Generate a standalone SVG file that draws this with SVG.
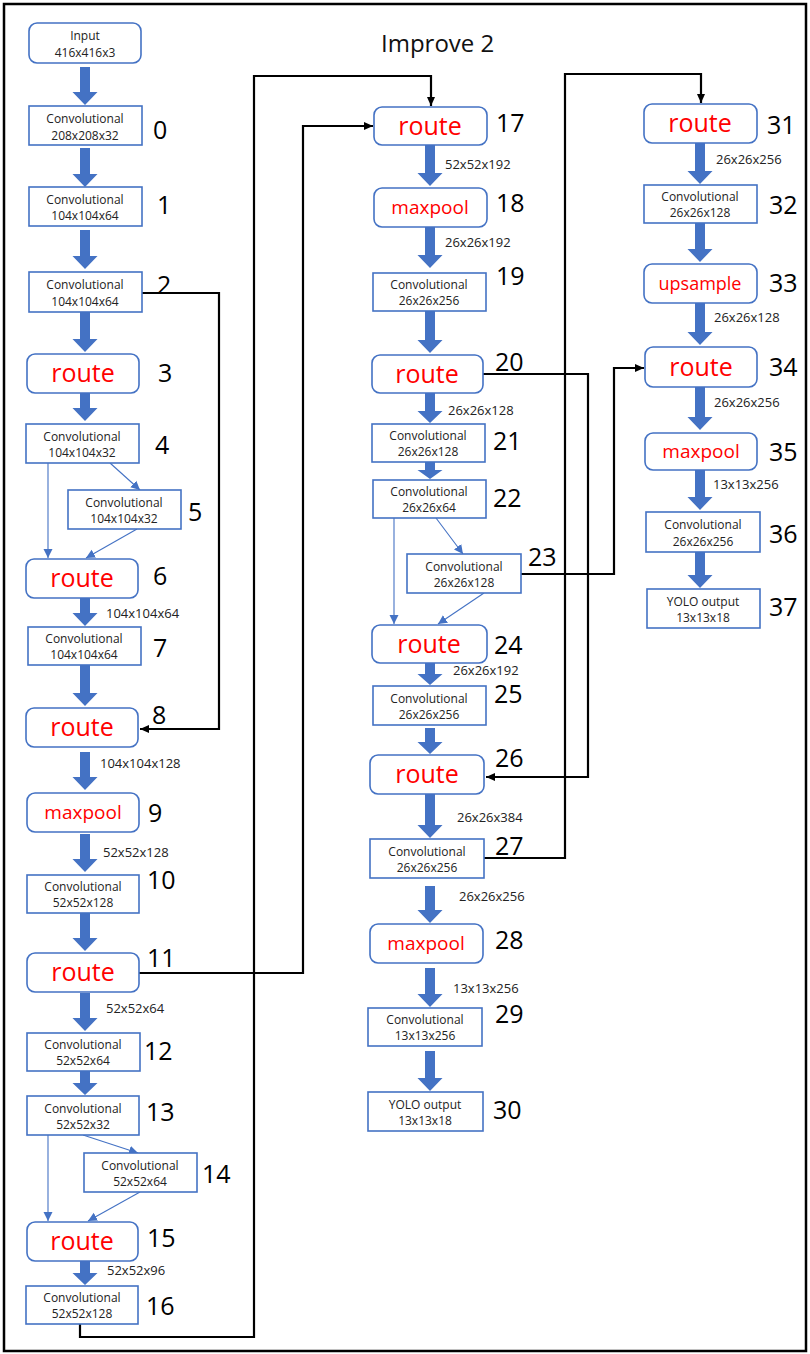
<svg xmlns="http://www.w3.org/2000/svg" width="810" height="1354" viewBox="0 0 810 1354">
<defs>
<style>
.frame{fill:#fff;stroke:#000;stroke-width:2.5}
.box{fill:#fff;stroke:#4472C4;stroke-width:1.6}
.t{font-family:"Open Sans","Liberation Sans",sans-serif;font-size:12px;fill:#222;text-anchor:middle}
.r{font-family:"Open Sans","Liberation Sans",sans-serif;font-size:25px;fill:#FF0000;text-anchor:middle}
.m{font-family:"Open Sans","Liberation Sans",sans-serif;font-size:19px;fill:#FF0000;text-anchor:middle}
.num{font-family:"Open Sans","Liberation Sans",sans-serif;font-size:25px;fill:#000}
.lbl{font-family:"Open Sans","Liberation Sans",sans-serif;font-size:13px;fill:#222}
.title{font-family:"Open Sans","Liberation Sans",sans-serif;font-size:24px;fill:#111}
.fat{fill:#4472C4}
.thin{fill:none;stroke:#4472C4;stroke-width:1.1;marker-end:url(#ab)}
.blk{fill:none;stroke:#000;stroke-width:2.2;marker-end:url(#ak)}
</style>
<marker id="ab" markerWidth="10" markerHeight="10" refX="9" refY="5" orient="auto" markerUnits="userSpaceOnUse"><path d="M0,0.5 L9,5 L0,9.5 Z" fill="#4472C4"/></marker>
<marker id="ak" markerWidth="10" markerHeight="10" refX="9" refY="5" orient="auto" markerUnits="userSpaceOnUse"><path d="M0,1 L9,5 L0,9 Z" fill="#000"/></marker>
</defs>
<rect class="frame" x="4" y="4" width="802" height="1347"/>
<text class="title" x="381" y="52">Improve 2</text>

<g id="connectors">
<path class="blk" d="M142,293 H219 V729 H140"/>
<path class="blk" d="M139,973 H303 V126 H373"/>
<path class="blk" d="M80,1324 V1337 H254 V76 H431 V106"/>
<path class="blk" d="M483,374 H588 V777 H486"/>
<path class="blk" d="M484,858 H565 V74 H701 V103"/>
<path class="blk" d="M521,574 H614 V368 H644"/>
<path class="thin" d="M48,463 V558"/>
<path class="thin" d="M110,463 L140,490"/>
<path class="thin" d="M137,529 L86,558"/>
<path class="thin" d="M48,1135 V1221"/>
<path class="thin" d="M83,1135 L138,1153"/>
<path class="thin" d="M140,1192 L88,1221"/>
<path class="thin" d="M394,518 V624"/>
<path class="thin" d="M436,518 L463,554"/>
<path class="thin" d="M484,593 L438,624"/>
<polygon class="fat" points="80,67 90,67 90,92 97.5,92 85,105 72.5,92 80,92"/>
<polygon class="fat" points="80,148 90,148 90,174 97.5,174 85,187 72.5,174 80,174"/>
<polygon class="fat" points="80,230 90,230 90,256 97.5,256 85,269 72.5,256 80,256"/>
<polygon class="fat" points="80,312 90,312 90,339 97.5,339 85,352 72.5,339 80,339"/>
<polygon class="fat" points="80,393 90,393 90,408 97.5,408 85,421 72.5,408 80,408"/>
<polygon class="fat" points="80,598 90,598 90,613 97.5,613 85,626 72.5,613 80,613"/>
<polygon class="fat" points="80,665 90,665 90,693 97.5,693 85,706 72.5,693 80,693"/>
<polygon class="fat" points="80,752 90,752 90,777 97.5,777 85,790 72.5,777 80,777"/>
<polygon class="fat" points="80,834 90,834 90,859 97.5,859 85,872 72.5,859 80,859"/>
<polygon class="fat" points="80,913 90,913 90,938 97.5,938 85,951 72.5,938 80,938"/>
<polygon class="fat" points="80,993 90,993 90,1018 97.5,1018 85,1031 72.5,1018 80,1018"/>
<polygon class="fat" points="80,1071 90,1071 90,1083 97.5,1083 85,1095 72.5,1083 80,1083"/>
<polygon class="fat" points="80,1261 90,1261 90,1273 97.5,1273 85,1285 72.5,1273 80,1273"/>
<polygon class="fat" points="425,145 435,145 435,173 442.5,173 430,186 417.5,173 425,173"/>
<polygon class="fat" points="425,227 435,227 435,255 442.5,255 430,268 417.5,255 425,255"/>
<polygon class="fat" points="425,311 435,311 435,340 442.5,340 430,353 417.5,340 425,340"/>
<polygon class="fat" points="425,393 435,393 435,411 442.5,411 430,423 417.5,411 425,411"/>
<polygon class="fat" points="425,462 435,462 435,470 442.5,470 430,479 417.5,470 425,470"/>
<polygon class="fat" points="425,663 435,663 435,674 442.5,674 430,685 417.5,674 425,674"/>
<polygon class="fat" points="425,728 435,728 435,742 442.5,742 430,754 417.5,742 425,742"/>
<polygon class="fat" points="425,794 435,794 435,825 442.5,825 430,838 417.5,825 425,825"/>
<polygon class="fat" points="425,886 435,886 435,910 442.5,910 430,923 417.5,910 425,910"/>
<polygon class="fat" points="425,968 435,968 435,994 442.5,994 430,1007 417.5,994 425,994"/>
<polygon class="fat" points="425,1051 435,1051 435,1078 442.5,1078 430,1091 417.5,1078 425,1078"/>
<polygon class="fat" points="695,143 705,143 705,171 712.5,171 700,184 687.5,171 695,171"/>
<polygon class="fat" points="695,223 705,223 705,249 712.5,249 700,262 687.5,249 695,249"/>
<polygon class="fat" points="695,303 705,303 705,332 712.5,332 700,345 687.5,332 695,332"/>
<polygon class="fat" points="695,387 705,387 705,417 712.5,417 700,430 687.5,417 695,417"/>
<polygon class="fat" points="695,470 705,470 705,497 712.5,497 700,510 687.5,497 695,497"/>
<polygon class="fat" points="695,552 705,552 705,575 712.5,575 700,588 687.5,575 695,575"/>
</g>

<g id="edge-labels">
<text class="lbl" x="106" y="618">104x104x64</text>
<text class="lbl" x="100" y="768">104x104x128</text>
<text class="lbl" x="103" y="857">52x52x128</text>
<text class="lbl" x="106" y="1013">52x52x64</text>
<text class="lbl" x="107" y="1275">52x52x96</text>
<text class="lbl" x="445" y="169">52x52x192</text>
<text class="lbl" x="445" y="247">26x26x192</text>
<text class="lbl" x="448" y="415">26x26x128</text>
<text class="lbl" x="453" y="675">26x26x192</text>
<text class="lbl" x="457" y="822">26x26x384</text>
<text class="lbl" x="459" y="901">26x26x256</text>
<text class="lbl" x="453" y="993">13x13x256</text>
<text class="lbl" x="716" y="164">26x26x256</text>
<text class="lbl" x="714" y="322">26x26x128</text>
<text class="lbl" x="714" y="407">26x26x256</text>
<text class="lbl" x="713" y="489">13x13x256</text>
</g>

<g id="input"><rect class="box" x="29" y="23" width="112" height="40" rx="8"/><text class="t" x="85" y="40">Input</text><text class="t" x="85" y="57">416x416x3</text></g>
<g id="n0"><rect class="box" x="29" y="106" width="113" height="39"/><text class="t" x="85" y="123">Convolutional</text><text class="t" x="85" y="140">208x208x32</text><text class="num" x="153" y="139">0</text></g>
<g id="n1"><rect class="box" x="29" y="187" width="113" height="39"/><text class="t" x="85" y="204">Convolutional</text><text class="t" x="85" y="220">104x104x64</text><text class="num" x="157" y="214">1</text></g>
<g id="n2"><rect class="box" x="29" y="272" width="113" height="40"/><text class="t" x="85" y="289">Convolutional</text><text class="t" x="85" y="306">104x104x64</text><text class="num" x="157" y="294">2</text></g>
<g id="n3"><rect class="box" x="27" y="354" width="112" height="39" rx="8"/><text class="r" x="83" y="382">route</text><text class="num" x="158" y="382">3</text></g>
<g id="n4"><rect class="box" x="26" y="424" width="113" height="39"/><text class="t" x="82" y="441">Convolutional</text><text class="t" x="82" y="457">104x104x32</text><text class="num" x="155" y="454">4</text></g>
<g id="n5"><rect class="box" x="68" y="490" width="113" height="39"/><text class="t" x="124" y="507">Convolutional</text><text class="t" x="124" y="523">104x104x32</text><text class="num" x="188" y="521">5</text></g>
<g id="n6"><rect class="box" x="26" y="559" width="112" height="39" rx="8"/><text class="r" x="82" y="587">route</text><text class="num" x="153" y="585">6</text></g>
<g id="n7"><rect class="box" x="28" y="627" width="113" height="38"/><text class="t" x="84" y="643">Convolutional</text><text class="t" x="84" y="659">104x104x64</text><text class="num" x="153" y="657">7</text></g>
<g id="n8"><rect class="box" x="26" y="708" width="112" height="39" rx="8"/><text class="r" x="82" y="736">route</text><text class="num" x="152" y="724">8</text></g>
<g id="n9"><rect class="box" x="27" y="793" width="112" height="39" rx="8"/><text class="m" x="83" y="819">maxpool</text><text class="num" x="148" y="822">9</text></g>
<g id="n10"><rect class="box" x="27" y="875" width="112" height="38"/><text class="t" x="83" y="891">Convolutional</text><text class="t" x="83" y="907">52x52x128</text><text class="num" x="147" y="889">10</text></g>
<g id="n11"><rect class="box" x="27" y="953" width="112" height="39" rx="8"/><text class="r" x="83" y="981">route</text><text class="num" x="147" y="967">11</text></g>
<g id="n12"><rect class="box" x="27" y="1033" width="113" height="38"/><text class="t" x="83" y="1049">Convolutional</text><text class="t" x="83" y="1065">52x52x64</text><text class="num" x="144" y="1060">12</text></g>
<g id="n13"><rect class="box" x="27" y="1096" width="112" height="39"/><text class="t" x="83" y="1113">Convolutional</text><text class="t" x="83" y="1129">52x52x32</text><text class="num" x="146" y="1121">13</text></g>
<g id="n14"><rect class="box" x="84" y="1153" width="113" height="39"/><text class="t" x="140" y="1170">Convolutional</text><text class="t" x="140" y="1186">52x52x64</text><text class="num" x="202" y="1183">14</text></g>
<g id="n15"><rect class="box" x="27" y="1222" width="111" height="39" rx="8"/><text class="r" x="82" y="1250">route</text><text class="num" x="147" y="1247">15</text></g>
<g id="n16"><rect class="box" x="26" y="1286" width="112" height="38"/><text class="t" x="82" y="1302">Convolutional</text><text class="t" x="82" y="1318">52x52x128</text><text class="num" x="146" y="1315">16</text></g>

<g id="n17"><rect class="box" x="374" y="107" width="113" height="38" rx="8"/><text class="r" x="430" y="135">route</text><text class="num" x="496" y="132">17</text></g>
<g id="n18"><rect class="box" x="374" y="188" width="113" height="39" rx="8"/><text class="m" x="430" y="214">maxpool</text><text class="num" x="496" y="212">18</text></g>
<g id="n19"><rect class="box" x="373" y="273" width="113" height="38"/><text class="t" x="429" y="289">Convolutional</text><text class="t" x="429" y="305">26x26x256</text><text class="num" x="496" y="285">19</text></g>
<g id="n20"><rect class="box" x="372" y="355" width="111" height="38" rx="8"/><text class="r" x="427" y="383">route</text><text class="num" x="495" y="371">20</text></g>
<g id="n21"><rect class="box" x="372" y="424" width="113" height="38"/><text class="t" x="428" y="440">Convolutional</text><text class="t" x="428" y="456">26x26x128</text><text class="num" x="493" y="450">21</text></g>
<g id="n22"><rect class="box" x="373" y="480" width="113" height="38"/><text class="t" x="429" y="496">Convolutional</text><text class="t" x="429" y="512">26x26x64</text><text class="num" x="493" y="507">22</text></g>
<g id="n23"><rect class="box" x="407" y="554" width="114" height="39"/><text class="t" x="464" y="571">Convolutional</text><text class="t" x="464" y="587">26x26x128</text><text class="num" x="528" y="566">23</text></g>
<g id="n24"><rect class="box" x="372" y="625" width="115" height="38" rx="8"/><text class="r" x="429" y="653">route</text><text class="num" x="494" y="654">24</text></g>
<g id="n25"><rect class="box" x="373" y="686" width="113" height="39"/><text class="t" x="429" y="703">Convolutional</text><text class="t" x="429" y="719">26x26x256</text><text class="num" x="494" y="703">25</text></g>
<g id="n26"><rect class="box" x="370" y="755" width="114" height="39" rx="8"/><text class="r" x="427" y="783">route</text><text class="num" x="495" y="767">26</text></g>
<g id="n27"><rect class="box" x="370" y="839" width="114" height="39"/><text class="t" x="427" y="856">Convolutional</text><text class="t" x="427" y="872">26x26x256</text><text class="num" x="495" y="855">27</text></g>
<g id="n28"><rect class="box" x="370" y="924" width="113" height="39" rx="8"/><text class="m" x="426" y="950">maxpool</text><text class="num" x="495" y="949">28</text></g>
<g id="n29"><rect class="box" x="368" y="1008" width="114" height="38"/><text class="t" x="425" y="1024">Convolutional</text><text class="t" x="425" y="1040">13x13x256</text><text class="num" x="495" y="1023">29</text></g>
<g id="n30"><rect class="box" x="368" y="1092" width="115" height="39"/><text class="t" x="425" y="1109">YOLO output</text><text class="t" x="425" y="1125">13x13x18</text><text class="num" x="493" y="1119">30</text></g>

<g id="n31"><rect class="box" x="644" y="104" width="113" height="39" rx="8"/><text class="r" x="700" y="132">route</text><text class="num" x="767" y="134">31</text></g>
<g id="n32"><rect class="box" x="644" y="185" width="113" height="38"/><text class="t" x="700" y="201">Convolutional</text><text class="t" x="700" y="217">26x26x128</text><text class="num" x="769" y="214">32</text></g>
<g id="n33"><rect class="box" x="644" y="264" width="113" height="39" rx="8"/><text class="m" x="700" y="290" style="font-size:18px">upsample</text><text class="num" x="769" y="292">33</text></g>
<g id="n34"><rect class="box" x="645" y="347" width="112" height="40" rx="8"/><text class="r" x="701" y="376">route</text><text class="num" x="769" y="376">34</text></g>
<g id="n35"><rect class="box" x="645" y="433" width="112" height="37" rx="8"/><text class="m" x="701" y="458">maxpool</text><text class="num" x="769" y="461">35</text></g>
<g id="n36"><rect class="box" x="646" y="512" width="114" height="40"/><text class="t" x="703" y="529">Convolutional</text><text class="t" x="703" y="546">26x26x256</text><text class="num" x="769" y="543">36</text></g>
<g id="n37"><rect class="box" x="647" y="589" width="113" height="39"/><text class="t" x="703" y="606">YOLO output</text><text class="t" x="703" y="622">13x13x18</text><text class="num" x="769" y="616">37</text></g>
</svg>
